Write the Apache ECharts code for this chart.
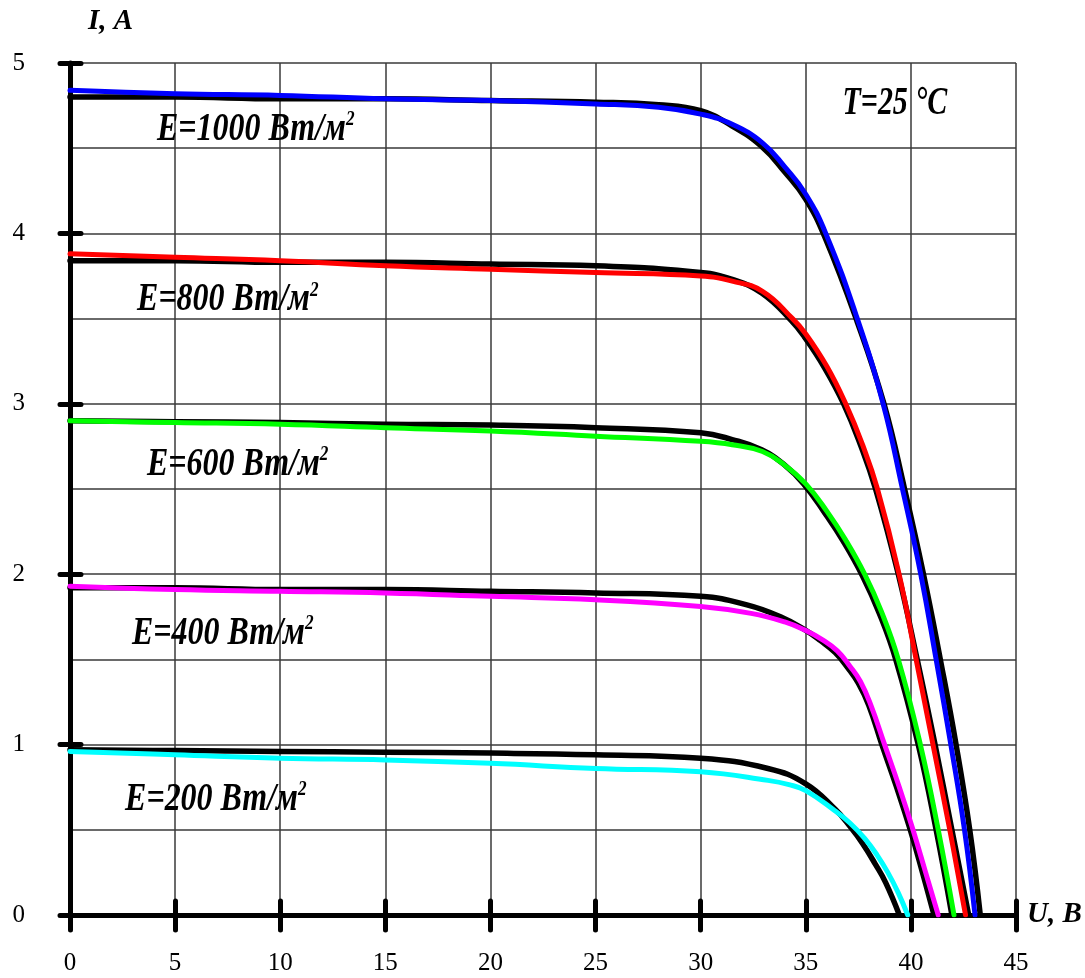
<!DOCTYPE html>
<html><head><meta charset="utf-8">
<script src="https://cdn.jsdelivr.net/npm/echarts@6/dist/echarts.min.js"></script>
<style>html,body{margin:0;padding:0;background:#fff}#c{width:1085px;height:978px}</style>
</head><body><div id="c"></div>
<script>
// ---- axes ----
const xTicks = [0, 5, 10, 15, 20, 25, 30, 35, 40, 45];
const yTicks = [0, 1, 2, 3, 4, 5];

// ---- measured (black) curves: U (V), I (A) ----
const exp1000U = [0,5,10,15,20,25,28,30,31.5,32.9,34.0,35.0,35.9,37.45,38.72,39.7,40.6,41.4,42.15,42.8,43.3];
const exp1000I = [4.80,4.80,4.79,4.79,4.78,4.77,4.755,4.72,4.63,4.51,4.36,4.20,3.98,3.48,3.00,2.50,2.00,1.50,1.00,0.50,0];
const exp800U = [0,5,10,15,20,25,30,31.5,32.9,34.3,34.95,35.9,36.8,37.6,38.32,39.4,40.3,41.15,41.95,42.75];
const exp800I = [3.84,3.84,3.83,3.83,3.82,3.81,3.77,3.73,3.65,3.49,3.39,3.21,3.00,2.76,2.50,2.00,1.50,1.00,0.50,0];
const exp600U = [0,5,10,15,20,25,30,31.5,32.9,34.0,34.9,35.9,36.8,37.7,38.5,39.28,40.35,41.2,41.95];
const exp600I = [2.90,2.895,2.89,2.88,2.875,2.86,2.83,2.79,2.73,2.64,2.53,2.36,2.19,1.99,1.77,1.50,1.00,0.50,0];
const exp400U = [0,5,10,15,20,25,30,32.2,33.8,35.0,35.7,36.4,37.0,37.5,38.0,38.62,39.32,39.97,40.55,41.1];
const exp400I = [1.92,1.92,1.91,1.91,1.90,1.89,1.87,1.82,1.75,1.67,1.61,1.54,1.45,1.36,1.23,1.00,0.75,0.50,0.25,0];
const exp200U = [0,5,10,15,20,25,30,33.2,35.0,36.4,37.1,37.7,38.3,38.8,39.45];
const exp200I = [0.97,0.965,0.96,0.955,0.95,0.94,0.92,0.86,0.77,0.62,0.52,0.42,0.30,0.19,0];

// ---- model (coloured) curves ----
const mod1000U = [0,5,10,15,20,25,28,30,31.5,32.95,34.0,35.0,35.95,37.45,38.68,39.6,40.47,41.2,41.9,42.55,43.05];
const mod1000I = [4.84,4.82,4.81,4.79,4.78,4.76,4.74,4.70,4.64,4.53,4.39,4.23,4.00,3.50,3.00,2.50,2.00,1.50,1.00,0.50,0];
const mod800U = [0,5,10,15,20,25,30,31.5,32.94,34.37,35.0,36.0,36.9,37.7,38.41,39.44,40.25,41.05,41.85,42.6];
const mod800I = [3.88,3.86,3.84,3.81,3.79,3.77,3.75,3.72,3.66,3.50,3.41,3.22,3.00,2.76,2.50,2.00,1.50,1.00,0.50,0];
const mod600U = [0,5,10,15,20,25,30,31.5,32.94,34.0,35.0,36.0,36.9,37.8,38.6,39.4,40.45,41.3,42.05];
const mod600I = [2.90,2.89,2.88,2.86,2.84,2.81,2.78,2.76,2.72,2.64,2.53,2.37,2.20,2.00,1.78,1.50,1.00,0.50,0];
const mod400U = [0,5,10,15,20,25,30,32.4,34.0,35.0,35.8,36.5,37.1,37.6,38.1,38.75,39.45,40.1,40.7,41.3];
const mod400I = [1.93,1.91,1.90,1.89,1.87,1.85,1.81,1.77,1.72,1.67,1.615,1.55,1.46,1.37,1.23,1.00,0.75,0.50,0.25,0];
const mod200U = [0,5,10,15,20,25,30,33.2,34.2,35.0,36.4,37.1,37.8,38.4,38.9,39.4,39.85];
const mod200I = [0.96,0.94,0.92,0.91,0.89,0.86,0.84,0.79,0.765,0.73,0.61,0.54,0.45,0.35,0.25,0.13,0];

const modelColors = ['#0000ff', '#ff0000', '#00ff00', '#ff00ff', '#00ffff'];
const curveNames = ['E=1000', 'E=800', 'E=600', 'E=400', 'E=200'];

// ---- annotations (text anchored at left/baseline in data coords) ----
const annoText = ['E=1000 Вт/м', 'E=800 Вт/м', 'E=600 Вт/м', 'E=400 Вт/м', 'E=200 Вт/м'];
const annoU = [4.14, 3.19, 3.66, 2.95, 2.62];
const annoI = [4.53, 3.53, 2.565, 1.573, 0.599];
const tempText = 'T=25 °C';
const tempU = 36.75, tempI = 4.68;

const expSets = [[exp1000U,exp1000I],[exp800U,exp800I],[exp600U,exp600I],[exp400U,exp400I],[exp200U,exp200I]];
const modSets = [[mod1000U,mod1000I],[mod800U,mod800I],[mod600U,mod600I],[mod400U,mod400I],[mod200U,mod200I]];

function pairs(U, I) { return U.map((u, k) => [u, I[k]]); }
function lineSeries(name, U, I, color, width, z) {
  return {
    type: 'line', name: name, data: pairs(U, I),
    smooth: 0.45, showSymbol: false, symbol: 'none',
    silent: true, z: z,
    lineStyle: { color: color, width: width, cap: 'round', join: 'round' }
  };
}
const series = [];
expSets.forEach((s, k) => series.push(lineSeries(curveNames[k] + ' exp', s[0], s[1], '#000', 5.5, 3)));
modSets.forEach((s, k) => series.push(lineSeries(curveNames[k] + ' model', s[0], s[1], modelColors[k], 5, 4)));

const serif = '"Liberation Serif", "Times New Roman", serif';
const gridLine = { color: '#3a3a3a', width: 1.5 };
const tickStyle = { color: '#000', width: 5, cap: 'round' };

const option = {
  animation: false,
  backgroundColor: '#fff',
  grid: { left: 70, right: 69, top: 63, bottom: 63, containLabel: false, outerBoundsMode: 'none' },
  xAxis: [{
    type: 'value', min: xTicks[0], max: xTicks[xTicks.length - 1], interval: xTicks[1] - xTicks[0],
    position: 'bottom',
    axisLine: { show: true, onZero: false, lineStyle: { color: '#000', width: 5 } },
    axisTick: { show: true, inside: false, length: 15, lineStyle: tickStyle },
    axisLabel: { margin: 36, fontFamily: serif, fontSize: 25, color: '#000' },
    splitLine: { show: true, lineStyle: gridLine },
    name: 'U, B', nameLocation: 'end', nameGap: 11,
    nameTextStyle: { fontFamily: serif, fontStyle: 'italic', fontWeight: 'bold', fontSize: 29, color: '#000',
      align: 'left', verticalAlign: 'middle', padding: [0, 0, 24, 0] }
  }, {
    type: 'value', min: xTicks[0], max: xTicks[xTicks.length - 1], interval: xTicks[1] - xTicks[0],
    position: 'bottom',
    axisLine: { show: false },
    axisTick: { show: true, inside: true, length: 14, lineStyle: tickStyle },
    axisLabel: { show: false }, splitLine: { show: false }
  }],
  yAxis: [{
    type: 'value', min: yTicks[0], max: yTicks[yTicks.length - 1], interval: yTicks[1] - yTicks[0],
    position: 'left',
    axisLine: { show: true, onZero: false, lineStyle: { color: '#000', width: 5 } },
    axisTick: { show: true, inside: false, length: 10, lineStyle: tickStyle },
    axisLabel: { margin: 45, fontFamily: serif, fontSize: 25, color: '#000' },
    splitLine: { show: true, lineStyle: gridLine },
    minorTick: { show: false, splitNumber: 2 },
    minorSplitLine: { show: true, lineStyle: gridLine },
    name: 'I, A', nameLocation: 'end', nameGap: 41,
    nameTextStyle: { fontFamily: serif, fontStyle: 'italic', fontWeight: 'bold', fontSize: 29, color: '#000',
      align: 'left', verticalAlign: 'middle', padding: [0, 0, 0, 18] }
  }, {
    type: 'value', min: yTicks[0], max: yTicks[yTicks.length - 1], interval: yTicks[1] - yTicks[0],
    position: 'left',
    axisLine: { show: false },
    axisTick: { show: true, inside: true, length: 11, lineStyle: tickStyle },
    axisLabel: { show: false }, splitLine: { show: false }
  }],
  series: series
};

const chart = echarts.init(document.getElementById('c'), null, { renderer: 'canvas', width: 1085, height: 978 });
chart.setOption(option);

const FS = 41;
const mainFont = 'italic bold ' + FS + 'px ' + serif;
const graphics = annoText.map((t, k) => {
  const p = chart.convertToPixel({ gridIndex: 0 }, [annoU[k], annoI[k]]);
  return {
    type: 'text', x: p[0], y: p[1] - 0.34 * FS, scaleX: 0.78, z: 100,
    style: {
      text: '{m|' + t + '}{s|2}',
      verticalAlign: 'middle', align: 'left',
      rich: {
        m: { font: mainFont, fill: '#000' },
        s: { font: 'italic bold 22px ' + serif, fill: '#000', verticalAlign: 'top' }
      }
    }
  };
});
const tp = chart.convertToPixel({ gridIndex: 0 }, [tempU, tempI]);
graphics.push({
  type: 'text', x: tp[0], y: tp[1] - 0.34 * FS, scaleX: 0.73, z: 100,
  style: { text: tempText, font: mainFont, fill: '#000', verticalAlign: 'middle', align: 'left' }
});
chart.setOption({ graphic: graphics });
</script>
</body></html>
